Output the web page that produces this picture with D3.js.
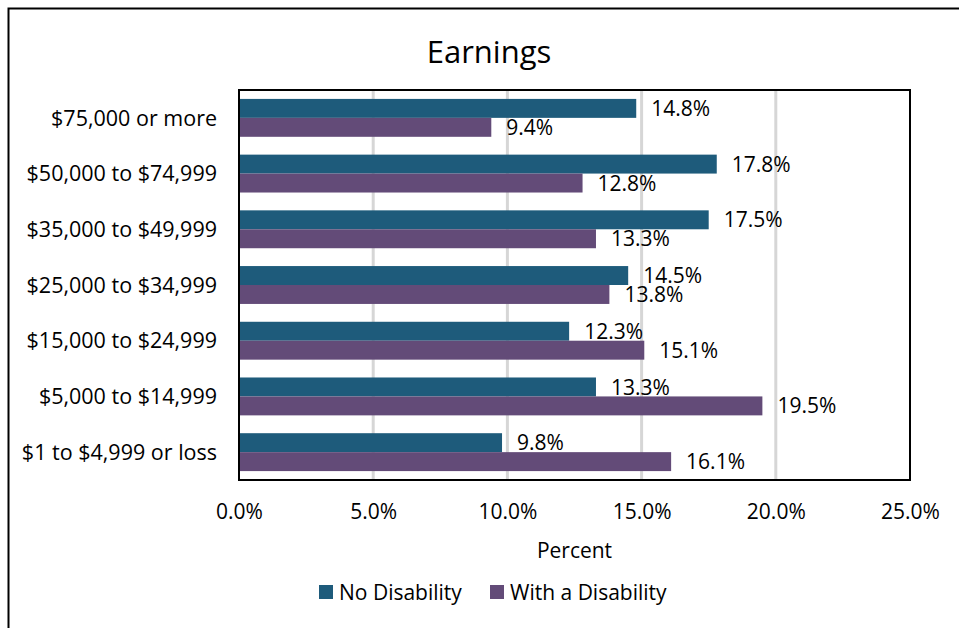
<!DOCTYPE html>
<html lang="en">
<head>
  <meta charset="utf-8">
  <title>Earnings</title>
  <script src="https://d3js.org/d3.v7.min.js"></script>
  <style>
    body { margin: 0; background: #fff; }
    #chart text { font-family: "Open Sans", "Noto Sans", sans-serif; fill: #000; }
  </style>
</head>
<body>
  <div id="chart"></div>

  <script>
    "use strict"

    // dados
    var categorias = ["$75,000 or more", "$50,000 to $74,999", "$35,000 to $49,999",
      "$25,000 to $34,999", "$15,000 to $24,999", "$5,000 to $14,999", "$1 to $4,999 or loss"];
    var semDeficiencia = [14.8, 17.8, 17.5, 14.5, 12.3, 13.3, 9.8];
    var comDeficiencia = [9.4, 12.8, 13.3, 13.8, 15.1, 19.5, 16.1];
    var series = ["No Disability", "With a Disability"];
    var ticks = [0, 5, 10, 15, 20, 25];

    var cores = d3.scaleOrdinal().domain(series).range(["#1e5b7b", "#634b78"]);

    var larguraSVG = 959, alturaSVG = 628;
    var margin = {top: 90, right: 49, bottom: 148, left: 239},
        larguraVis = larguraSVG - margin.left - margin.right,
        alturaVis = alturaSVG - margin.top - margin.bottom;

    var svg = d3.select('#chart').append('svg')
        .attr('width', larguraSVG)
        .attr('height', alturaSVG);

    // moldura externa (so esquerda e topo aparecem)
    svg.append('path')
        .attr('d', 'M8.5,628 V8.5 H959')
        .attr('fill', 'none')
        .attr('stroke', '#000')
        .attr('stroke-width', 2);

    var grafico = svg.append('g')
        .attr('transform', 'translate(' + margin.left + ',' + margin.top + ')');

    // escalas
    var xScale = d3.scaleLinear().domain([0, 25]).range([0, larguraVis]);
    var yScale = d3.scaleBand().domain(categorias).range([0, alturaVis])
        .paddingInner(0.32).paddingOuter(0.16);
    var ySub = d3.scaleBand().domain(series).range([0, yScale.bandwidth()]);

    // grade
    grafico.selectAll('line.grade')
        .data(ticks.slice(1, -1))
        .enter().append('line')
          .attr('class', 'grade')
          .attr('x1', d => xScale(d)).attr('x2', d => xScale(d))
          .attr('y1', 0).attr('y2', alturaVis)
          .attr('stroke', '#d6d6d6')
          .attr('stroke-width', 3);

    var linhas = categorias.map((c, i) => ({
      cat: c,
      valores: [
        {serie: series[0], v: semDeficiencia[i]},
        {serie: series[1], v: comDeficiencia[i]}
      ]
    }));

    var grupos = grafico.selectAll('g.cat')
        .data(linhas)
        .enter().append('g')
          .attr('class', 'cat')
          .attr('transform', d => 'translate(0,' + yScale(d.cat) + ')');

    grupos.selectAll('rect')
        .data(d => d.valores)
        .enter().append('rect')
          .attr('x', 0)
          .attr('y', d => ySub(d.serie))
          .attr('width', d => xScale(d.v))
          .attr('height', ySub.bandwidth())
          .attr('fill', d => cores(d.serie));

    grupos.selectAll('text.rotulo')
        .data(d => d.valores)
        .enter().append('text')
          .attr('class', 'rotulo')
          .attr('x', d => xScale(d.v) + 15)
          .attr('y', d => ySub(d.serie) + ySub.bandwidth() / 2)
          .attr('dy', '0.36em')
          .style('font-size', '21px')
          .text(d => d.v.toFixed(1) + '%');

    // borda da area do grafico
    grafico.append('rect')
        .attr('x', 0).attr('y', 0)
        .attr('width', larguraVis).attr('height', alturaVis)
        .attr('fill', 'none')
        .attr('stroke', '#000')
        .attr('stroke-width', 2);

    // eixo y (rotulos das categorias)
    grafico.selectAll('text.cat')
        .data(categorias)
        .enter().append('text')
          .attr('class', 'cat')
          .attr('x', -22)
          .attr('y', d => yScale(d) + yScale.bandwidth() / 2)
          .attr('dy', '0.36em')
          .attr('text-anchor', 'end')
          .style('font-size', '21.5px')
          .text(d => d);

    // eixo x
    var eixoX = grafico.append('g')
        .attr('transform', 'translate(0,' + alturaVis + ')')
        .call(d3.axisBottom(xScale).tickValues(ticks).tickSize(0).tickPadding(24)
          .tickFormat(d => d.toFixed(1) + '%'));
    eixoX.select('.domain').remove();
    eixoX.selectAll('text').style('font-size', '21px').attr('fill', '#000');

    grafico.append('text')
        .attr('x', larguraVis / 2)
        .attr('y', alturaVis + 70)
        .attr('dy', '0.36em')
        .attr('text-anchor', 'middle')
        .style('font-size', '21px')
        .text('Percent');

    // titulo
    svg.append('text')
        .attr('x', 489)
        .attr('y', 52)
        .attr('dy', '0.36em')
        .attr('text-anchor', 'middle')
        .style('font-size', '31px')
        .text('Earnings');

    // legenda
    var legenda = svg.append('g').attr('transform', 'translate(319,592)');
    var posLegenda = [0, 171];
    series.forEach((s, i) => {
      var item = legenda.append('g').attr('transform', 'translate(' + posLegenda[i] + ',0)');
      item.append('rect')
          .attr('x', 0).attr('y', -7)
          .attr('width', 14).attr('height', 14)
          .attr('fill', cores(s));
      item.append('text')
          .attr('x', 20).attr('y', 0)
          .attr('dy', '0.36em')
          .style('font-size', '21px')
          .text(s);
    });
  </script>
</body>
</html>
